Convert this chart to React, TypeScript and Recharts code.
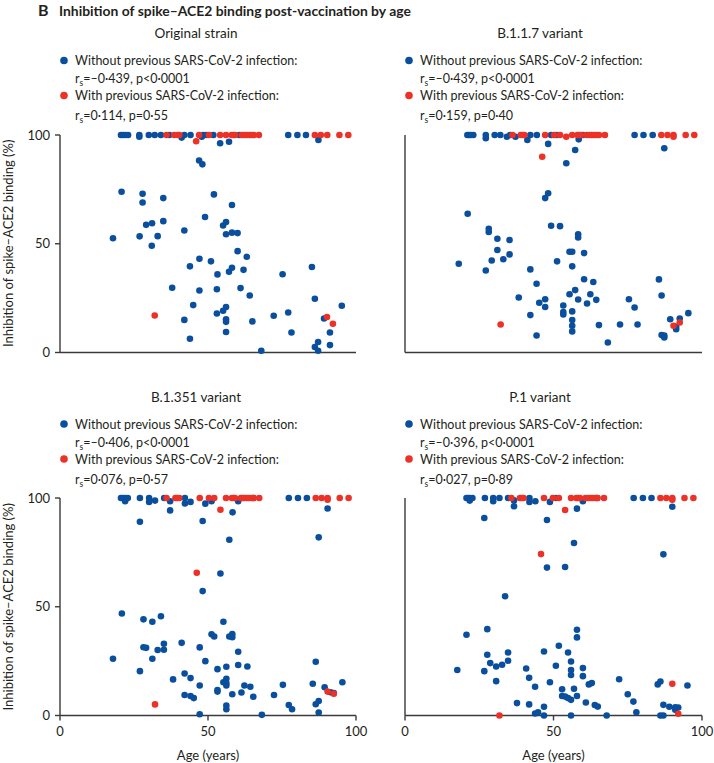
import React from 'react';
import { ScatterChart, Scatter, XAxis, YAxis } from 'recharts';

type Pt = [number, number];

const BLUE = '#0a4f9e';
const RED = '#ec3127';
const INK = '#231f20';
const AXIS = '#3a3a3a';
const FONT = 'Lato, "Noto Sans", sans-serif';

const xTicks = [0, 50, 100];
const yTicks = [0, 50, 100];

const panelTitles = ['Original strain', 'B.1.1.7 variant', 'B.1.351 variant', 'P.1 variant'];
const withoutStats = ['=–0·439, p<0·0001', '=–0·439, p<0·0001', '=–0·406, p<0·0001', '=–0·396, p<0·0001'];
const withStats = ['=0·114, p=0·55', '=0·159, p=0·40', '=0·076, p=0·57', '=0·027, p=0·89'];

const originalWithout: Pt[] = [
  [20.6,100],[21.4,100],[22.1,100],[23.0,100],[26.8,100],[26.8,99.2],[30.0,100],[32.0,100],[34.1,100],[36.9,100],[41.1,98.8],[42.0,100],[44.1,100],[47.9,99.2],[48.4,100],[49.5,100],[51.8,100],[54.1,96.2],[57.1,96.9],[60.6,100],[77.1,100],[80.2,100],[83.1,100],[87.3,97.7],
  [47.0,88.3],[48.1,86.5],[20.8,73.9],[27.9,73.0],[27.9,69.0],[34.9,71.0],[52.0,72.7],[58.1,67.8],[49.0,62.3],[34.9,60.4],[31.1,59.4],[29.1,58.7],[56.1,60.0],[55.1,58.4],[56.1,54.4],[58.1,55.1],[60.0,54.9],[42.0,56.1],[17.9,52.5],[26.9,53.4],[33.0,53.5],[31.0,49.1],[60.0,46.6],[63.1,44.0],[47.1,43.1],[51.0,41.9],[43.9,39.6],[58.1,39.0],[57.1,37.1],[62.0,38.0],[53.2,35.9],[75.2,36.0],[85.1,39.3],[37.9,29.8],[47.1,28.5],[53.0,29.1],[61.0,29.6],[64.1,26.2],[86.1,24.7],[95.2,21.5],[45.0,21.8],[56.1,20.9],[55.1,19.2],[53.0,17.9],[77.1,18.4],[72.2,16.9],[42.0,15.0],[56.1,15.3],[56.1,14.1],[65.0,14.3],[89.2,15.6],[56.1,9.4],[78.2,9.2],[91.2,9.2],[43.9,6.3],[87.2,4.8],[91.2,3.4],[86.1,2.5],[87.2,0.8],[68.0,0.8],
];
const originalWith: Pt[] = [
  [36.0,100],[38.6,100],[39.8,100],[40.3,100],[46.0,97.1],[47.0,100],[50.3,100],[54.1,100],[56.1,100],[58.0,100],[58.6,100],[59.1,100],[61.4,100],[62.2,100],[63.1,100],[64.0,100],[64.8,100],[65.5,100],[67.2,100],[86.1,100],[88.1,100],[90.3,100],[94.4,100],[97.4,100],[32.0,17.0],[90.2,16.3],[92.2,13.2],
];

const b117Without: Pt[] = [
  [21.0,100],[21.6,100],[22.2,100],[23.0,100],[27.2,100],[27.2,98.5],[30.2,100],[32.1,100],[34.3,99.2],[35.4,100],[37.2,99.2],[42.2,100],[44.4,100],[49.2,100],[51.1,100],[59.9,100],[77.3,100],[80.3,100],[83.4,100],
  [41.2,97.7],[48.2,95.9],[58.5,98.0],[87.3,93.9],[57.3,93.1],[54.3,87.0],
  [48.2,73.2],[47.2,71.0],[21.1,63.8],[49.2,58.3],[52.2,58.1],[28.2,56.9],[28.2,55.4],[58.3,54.4],[58.3,52.9],[31.1,52.3],[35.2,51.7],[31.1,47.1],[55.4,46.3],[56.3,46.3],[60.3,45.7],[35.2,45.1],[33.1,42.9],[29.2,42.3],[18.1,40.8],[51.2,41.9],[56.3,39.6],[27.2,37.7],[42.2,38.2],[60.3,33.7],[63.4,32.4],[85.5,33.6],[44.3,31.6],[57.3,28.7],[55.4,26.8],[62.4,26.8],[86.4,26.2],[38.3,25.3],[47.2,24.5],[45.2,22.9],[47.2,20.9],[58.3,24.4],[64.4,24.2],[75.4,24.5],[61.3,22.5],[53.3,21.6],[77.3,20.7],[53.3,18.6],[53.3,17.5],[56.3,18.9],[95.4,18.1],[42.2,17.2],[89.3,15.3],[92.5,15.6],[56.3,14.9],[56.3,12.3],[65.3,12.6],[72.4,12.9],[78.3,12.9],[91.3,11.8],[91.3,10.7],[56.3,9.7],[86.4,8.0],[87.3,7.8],[87.3,6.9],[44.3,7.8],[68.3,4.6],
];
const b117With: Pt[] = [
  [36.2,100],[39.0,100],[39.7,100],[40.2,100],[47.2,100],[50.2,100],[52.2,100],[54.3,99.2],[56.3,100],[58.1,100],[58.7,100],[59.2,100],[61.2,100],[62.1,100],[62.9,100],[63.7,100],[64.6,100],[65.3,100],[67.3,100],[86.3,100],[88.4,100],[90.4,100],[90.4,99.2],[94.5,100],[97.4,100],[46.2,90.0],[32.2,12.9],[90.4,12.3],[92.5,13.8],
];

const b1351Without: Pt[] = [
  [20.6,100],[21.2,100],[22.0,100],[22.0,98.5],[22.9,100],[27.0,100],[30.1,100],[30.1,98.2],[32.1,98.8],[35.2,100],[37.2,98.5],[42.2,100],[42.2,97.5],[44.1,98.2],[49.1,97.4],[51.2,98.5],[60.2,98.5],[65.3,100],[77.3,100],[80.4,100],[83.4,100],
  [37.2,94.3],[58.3,93.4],[90.4,95.2],[27.0,89.1],[48.2,89.4],[57.2,80.8],[87.4,81.9],[54.2,65.3],[48.2,57.2],
  [20.9,46.9],[28.2,44.2],[31.2,43.1],[34.1,45.6],[55.2,43.1],[51.2,37.3],[52.1,36.3],[57.2,36.3],[58.2,37.4],[58.2,36.0],[41.1,33.4],[35.1,33.0],[28.2,31.4],[29.1,31.1],[47.2,31.3],[33.0,30.1],[35.1,30.2],[60.2,29.3],[17.9,26.1],[31.2,26.1],[49.1,25.0],[86.4,24.7],[56.2,22.4],[60.2,23.2],[63.3,22.5],[27.0,20.4],[53.2,21.3],[42.1,19.3],[44.1,17.2],[38.2,16.6],[56.2,16.9],[55.2,15.3],[56.2,14.9],[56.2,13.8],[47.2,13.8],[62.3,13.8],[64.3,13.2],[75.3,14.1],[85.4,14.6],[89.4,13.0],[95.4,15.3],[53.2,11.7],[53.2,11.0],[61.3,10.6],[58.2,9.8],[91.4,10.7],[92.5,10.3],[42.1,9.4],[44.1,9.0],[45.2,8.0],[72.3,9.4],[65.3,8.6],[77.3,4.8],[86.4,5.2],[87.4,6.7],[56.2,4.6],[56.2,2.9],[78.4,2.9],[87.4,1.4],[47.2,0.6],[68.2,0.3],
];
const b1351With: Pt[] = [
  [36.0,100],[39.0,100],[39.6,100],[40.3,100],[47.2,100],[50.3,100],[52.1,100],[56.1,100],[58.1,100],[58.6,100],[59.1,100],[61.1,100],[61.7,100],[62.3,100],[63.1,100],[63.9,100],[64.8,100],[65.4,100],[67.3,100],[86.4,100],[88.4,100],[90.4,100],[90.4,99.2],[94.5,100],[97.5,100],[54.2,94.6],[46.2,65.6],[32.1,5.1],[90.4,11.0],[92.5,10.0],
];

const p1Without: Pt[] = [
  [20.7,100],[21.3,100],[21.8,100],[21.8,98.8],[22.7,100],[26.9,100],[29.7,100],[29.7,98.5],[31.8,100],[34.7,100],[36.7,98.9],[41.9,100],[41.9,98.2],[43.9,98.5],[48.8,98.2],[50.8,100],[59.9,98.5],[64.7,100],[77.0,100],[80.1,100],[83.0,100],
  [36.7,96.2],[57.9,95.1],[90.0,96.0],[26.7,90.8],[47.8,89.9],[56.9,79.3],[87.0,74.1],[47.8,68.0],[53.9,68.3],[33.7,54.8],
  [20.7,37.1],[27.7,39.7],[57.9,39.4],[57.9,35.9],[51.8,32.1],[27.7,27.9],[34.7,29.0],[46.8,29.4],[54.9,29.0],[28.7,24.1],[34.7,25.2],[30.7,22.5],[32.7,23.3],[50.8,22.9],[55.9,24.8],[55.9,20.9],[55.9,18.6],[59.9,21.8],[59.9,18.1],[17.6,20.9],[26.7,20.4],[40.8,21.6],[41.8,17.3],[30.7,15.8],[48.8,15.3],[43.8,13.2],[62.9,14.9],[61.9,14.3],[72.1,16.7],[85.1,14.3],[86.0,15.6],[95.1,13.8],[52.9,12.1],[52.9,9.0],[53.9,8.7],[56.9,12.3],[54.9,8.0],[55.9,7.2],[57.9,9.0],[75.0,9.8],[76.9,6.4],[37.7,5.7],[41.8,5.1],[60.9,6.0],[63.9,4.8],[64.9,4.1],[87.0,4.9],[89.0,4.0],[91.0,3.8],[92.0,3.7],[91.0,2.6],[46.8,4.0],[43.8,0.9],[44.8,1.5],[46.8,0],[55.9,0],[67.9,0],[77.9,1.5],[86.0,0],[87.0,0],
];
const p1With: Pt[] = [
  [35.8,100],[38.7,100],[39.3,100],[39.9,100],[46.8,100],[49.8,100],[51.8,100],[55.9,100],[57.7,100],[58.3,100],[58.9,100],[60.8,100],[61.7,100],[62.5,100],[63.3,100],[64.2,100],[64.8,100],[67.0,100],[86.0,100],[88.0,100],[90.0,100],[90.0,99.2],[94.1,100],[97.1,100],[53.9,94.5],[45.8,74.2],[31.8,0],[92.0,0.8],[90.0,14.6],
];

const toRows = (pts: Pt[]) => pts.map(([age, pct]) => ({ age, pct }));

const makeDot = (color: string) => (props: any) => {
  if (props.cx == null || props.cy == null) return <g />;
  return <circle cx={props.cx} cy={props.cy} r={3.3} fill={color} />;
};
const blueDot = makeDot(BLUE);
const redDot = makeDot(RED);

const PLOT_H = 217.5;

interface PanelProps {
  idx: number;
  left: boolean;
  bottom: boolean;
  plotTop: number;
  without: Pt[];
  withPrev: Pt[];
}

function Panel({ idx, left, bottom, plotTop, without, withPrev }: PanelProps) {
  const chartLeft = left ? 0 : 345;
  const width = left ? 370 : 369;
  const rightMargin = left ? 14 : 12;
  const xAxisH = bottom ? 40 : 20;
  const topMargin = 10;
  const height = topMargin + PLOT_H + xAxisH;
  const dotX = left ? 64 : 409;
  const textX = left ? 75 : 420;
  const titleX = left ? 196 : 540;
  const tickStyle = { fontSize: 13, fill: INK, fontFamily: FONT };
  return (
    <>
      <div style={{ position: 'absolute', left: chartLeft, top: plotTop - topMargin, width, height }}>
        <ScatterChart width={width} height={height} margin={{ top: topMargin, right: rightMargin, bottom: 0, left: 0 }}>
          <XAxis
            type="number"
            dataKey="age"
            domain={[0, 100]}
            ticks={xTicks}
            height={xAxisH}
            tick={bottom ? tickStyle : false}
            tickSize={5}
            tickMargin={6}
            axisLine={{ stroke: AXIS, strokeWidth: 1.4 }}
            tickLine={{ stroke: AXIS, strokeWidth: 1.4 }}
          />
          <YAxis
            type="number"
            dataKey="pct"
            domain={[0, 100]}
            ticks={yTicks}
            width={60}
            tick={left ? tickStyle : false}
            tickSize={5}
            tickMargin={5}
            axisLine={{ stroke: AXIS, strokeWidth: 1.4 }}
            tickLine={{ stroke: AXIS, strokeWidth: 1.4 }}
          />
          <Scatter data={toRows(without)} shape={blueDot} isAnimationActive={false} />
          <Scatter data={toRows(withPrev)} shape={redDot} isAnimationActive={false} />
        </ScatterChart>
      </div>
      <svg style={{ position: 'absolute', left: 0, top: 0, overflow: 'visible', pointerEvents: 'none' }} width={714} height={763}>
        <g fontFamily={FONT} fill={INK} fontSize={12.5}>
          <text x={titleX} y={plotTop - 101 + 4.5} textAnchor="middle" fontSize={13.5}>{panelTitles[idx]}</text>
          <circle cx={dotX} cy={plotTop - 74} r={3.8} fill={BLUE} />
          <text x={textX} y={plotTop - 74 + 4.5}>Without previous SARS-CoV-2 infection:</text>
          <text x={textX} y={plotTop - 56 + 4.5}>
            <tspan>r</tspan>
            <tspan dy={3} fontSize={8.5}>s</tspan>
            <tspan dy={-3}>{withoutStats[idx]}</tspan>
          </text>
          <circle cx={dotX} cy={plotTop - 39} r={3.8} fill={RED} />
          <text x={textX} y={plotTop - 39 + 4.5}>With previous SARS-CoV-2 infection:</text>
          <text x={textX} y={plotTop - 19 + 4.5}>
            <tspan>r</tspan>
            <tspan dy={3} fontSize={8.5}>s</tspan>
            <tspan dy={-3}>{withStats[idx]}</tspan>
          </text>
          {bottom && (
            <text x={left ? 208 : 553.5} y={760} textAnchor="middle" fontSize={13}>Age (years)</text>
          )}
          {left && (
            <text
              transform={`translate(13, ${plotTop + PLOT_H / 2}) rotate(-90)`}
              textAnchor="middle"
              fontSize={13}
            >
              Inhibition of spike–ACE2 binding (%)
            </text>
          )}
        </g>
      </svg>
    </>
  );
}

export default function App() {
  return (
    <div style={{ position: 'absolute', left: 0, top: 0, width: 714, height: 763, background: '#fff', overflow: 'hidden', fontFamily: FONT }}>
      <svg style={{ position: 'absolute', left: 0, top: 0 }} width={714} height={30}>
        <text x={38} y={16} fontFamily={FONT} fontWeight={700} fontSize={16} fill={INK}>B</text>
        <text x={59} y={16} fontFamily={FONT} fontWeight={700} fontSize={13.9} fill={INK}>
          Inhibition of spike–ACE2 binding post-vaccination by age
        </text>
      </svg>
      <Panel idx={0} left bottom={false} plotTop={134.5} without={originalWithout} withPrev={originalWith} />
      <Panel idx={1} left={false} bottom={false} plotTop={134.5} without={b117Without} withPrev={b117With} />
      <Panel idx={2} left bottom plotTop={498} without={b1351Without} withPrev={b1351With} />
      <Panel idx={3} left={false} bottom plotTop={498} without={p1Without} withPrev={p1With} />
    </div>
  );
}
